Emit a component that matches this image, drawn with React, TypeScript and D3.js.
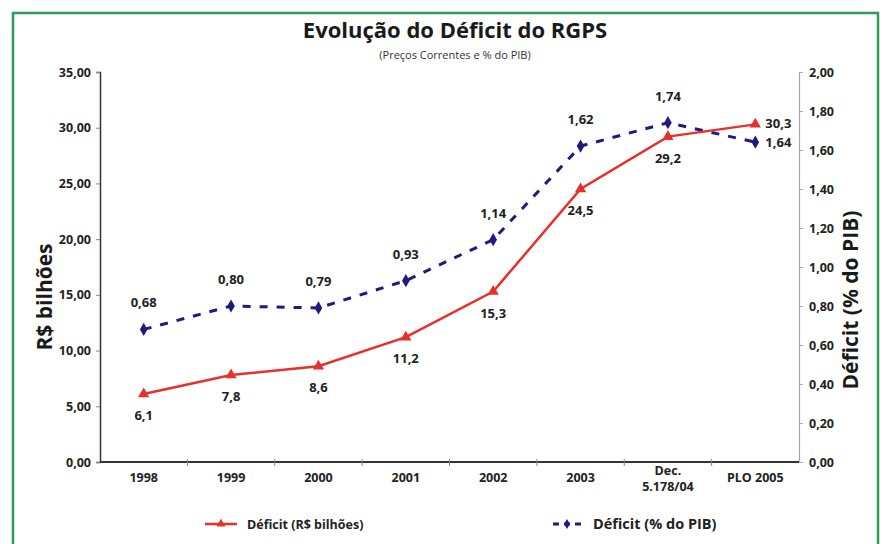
import React, { useRef, useEffect } from 'react';
import * as d3 from 'd3';

const categories = ['1998', '1999', '2000', '2001', '2002', '2003', 'Dec.\n5.178/04', 'PLO 2005'];
const deficitBilhoes = [6.1, 7.8, 8.6, 11.2, 15.3, 24.5, 29.2, 30.3];
const deficitPib = [0.68, 0.8, 0.79, 0.93, 1.14, 1.62, 1.74, 1.64];
const leftTicks = [0, 5, 10, 15, 20, 25, 30, 35];
const rightTicks = [0, 0.2, 0.4, 0.6, 0.8, 1.0, 1.2, 1.4, 1.6, 1.8, 2.0];

const RED = '#e8302a';
const NAVY = '#1f1a80';
const FONT = '"Open Sans", "DejaVu Sans", sans-serif';

const fmt2 = (v: number) => v.toFixed(2).replace('.', ',');
const fmt1 = (v: number) => v.toFixed(1).replace('.', ',');

const App = () => {
  const svgRef = useRef<SVGSVGElement | null>(null);

  useEffect(() => {
    if (!svgRef.current) return;
    const svg = d3.select(svgRef.current);
    svg.selectAll('*').remove();

    const width = 886;
    const height = 544;
    const margin = { top: 72, right: 87, bottom: 82, left: 100 };

    // frame
    svg.append('rect')
      .attr('x', 13).attr('y', 13)
      .attr('width', 865).attr('height', 560)
      .attr('fill', '#fff')
      .attr('stroke', '#2e9a5c')
      .attr('stroke-width', 2.5);

    const x = d3.scaleBand()
      .domain(categories)
      .range([margin.left, width - margin.right]);

    const yL = d3.scaleLinear().domain([0, 35]).range([height - margin.bottom, margin.top]);
    const yR = d3.scaleLinear().domain([0, 2]).range([height - margin.bottom, margin.top]);

    // title
    svg.append('text')
      .attr('x', 455).attr('y', 38)
      .attr('text-anchor', 'middle')
      .style('font-family', FONT)
      .style('font-size', '22px')
      .style('font-weight', 'bold')
      .attr('fill', '#1a1a1a')
      .text('Evolução do Déficit do RGPS');

    svg.append('text')
      .attr('x', 455).attr('y', 59)
      .attr('text-anchor', 'middle')
      .style('font-family', FONT)
      .style('font-size', '11px')
      .attr('fill', '#333')
      .text('(Preços Correntes e % do PIB)');

    const tickStyle = (g: any) => g
      .attr('fill', '#222')
      .style('font-family', FONT)
      .style('font-size', '12.5px')
      .style('font-weight', 'bold');

    // left axis
    svg.append('g')
      .attr('transform', `translate(${margin.left},0)`)
      .call(d3.axisLeft(yL).tickValues(leftTicks).tickFormat(d => fmt2(d as number)).tickSize(4).tickPadding(5))
      .call(g => g.select('.domain').attr('stroke', '#333').attr('stroke-width', 1.5))
      .call(g => g.selectAll('.tick line').attr('stroke', '#888'))
      .call(g => tickStyle(g.selectAll('.tick text')));

    // right axis
    svg.append('g')
      .attr('transform', `translate(${width - margin.right},0)`)
      .call(d3.axisRight(yR).tickValues(rightTicks).tickFormat(d => fmt2(d as number)).tickSize(4).tickPadding(6))
      .call(g => g.select('.domain').attr('stroke', '#aaa').attr('stroke-width', 1.2))
      .call(g => g.selectAll('.tick line').attr('stroke', '#aaa'))
      .call(g => tickStyle(g.selectAll('.tick text')));

    // bottom axis
    const xAxis = svg.append('g')
      .attr('transform', `translate(0,${height - margin.bottom})`);
    xAxis.append('line')
      .attr('x1', margin.left).attr('x2', width - margin.right)
      .attr('stroke', '#333').attr('stroke-width', 2);
    categories.forEach((c, i) => {
      if (i > 0) {
        xAxis.append('line')
          .attr('x1', x(c)!).attr('x2', x(c)!)
          .attr('y1', -3).attr('y2', 4)
          .attr('stroke', '#888');
      }
      const lines = c.split('\n');
      const t = tickStyle(xAxis.append('text')
        .attr('x', x(c)! + x.bandwidth() / 2)
        .attr('y', lines.length > 1 ? 13 : 20)
        .attr('text-anchor', 'middle'));
      lines.forEach((l, j) => {
        t.append('tspan')
          .attr('x', x(c)! + x.bandwidth() / 2)
          .attr('dy', j === 0 ? 0 : 16)
          .text(l);
      });
    });

    // axis titles
    svg.append('text')
      .attr('transform', `translate(52,297) rotate(-90)`)
      .attr('text-anchor', 'middle')
      .style('font-family', FONT)
      .style('font-size', '21px')
      .style('font-weight', 'bold')
      .attr('fill', '#1a1a1a')
      .text('R$ bilhões');

    svg.append('text')
      .attr('transform', `translate(858,300) rotate(-90)`)
      .attr('text-anchor', 'middle')
      .style('font-family', FONT)
      .style('font-size', '21px')
      .style('font-weight', 'bold')
      .attr('fill', '#1a1a1a')
      .text('Déficit (% do PIB)');

    const cx = (i: number) => x(categories[i])! + x.bandwidth() / 2;

    // PIB line
    const linePib = d3.line<number>().x((_, i) => cx(i)).y(d => yR(d));
    svg.append('path')
      .datum(deficitPib)
      .attr('fill', 'none')
      .attr('stroke', NAVY)
      .attr('stroke-width', 3)
      .attr('stroke-dasharray', '8,9')
      .attr('d', linePib);

    const diamond = d3.symbol().type(d3.symbolDiamond).size(50);
    svg.selectAll('.pib-pt')
      .data(deficitPib)
      .enter()
      .append('path')
      .attr('transform', (d, i) => `translate(${cx(i)},${yR(d)})`)
      .attr('d', diamond)
      .attr('fill', NAVY);

    // bilhoes line
    const lineBil = d3.line<number>().x((_, i) => cx(i)).y(d => yL(d));
    svg.append('path')
      .datum(deficitBilhoes)
      .attr('fill', 'none')
      .attr('stroke', RED)
      .attr('stroke-width', 2.5)
      .attr('d', lineBil);

    const tri = d3.symbol().type(d3.symbolTriangle).size(55);
    svg.selectAll('.bil-pt')
      .data(deficitBilhoes)
      .enter()
      .append('path')
      .attr('transform', (d, i) => `translate(${cx(i)},${yL(d)})`)
      .attr('d', tri)
      .attr('fill', RED);

    const last = categories.length - 1;

    // labels
    svg.selectAll('.bil-lbl')
      .data(deficitBilhoes)
      .enter()
      .append('text')
      .attr('x', (d, i) => (i === last ? cx(i) + 10 : cx(i)))
      .attr('y', (d, i) => (i === last ? yL(d) + 4 : yL(d) + 26))
      .attr('text-anchor', (d, i) => (i === last ? 'start' : 'middle'))
      .attr('fill', '#222')
      .style('font-family', FONT)
      .style('font-size', '13px')
      .style('font-weight', 'bold')
      .text(d => fmt1(d));

    svg.selectAll('.pib-lbl')
      .data(deficitPib)
      .enter()
      .append('text')
      .attr('x', (d, i) => (i === last ? cx(i) + 10 : cx(i)))
      .attr('y', (d, i) => (i === last ? yR(d) + 5 : yR(d) - 22))
      .attr('text-anchor', (d, i) => (i === last ? 'start' : 'middle'))
      .attr('fill', '#222')
      .style('font-family', FONT)
      .style('font-size', '13px')
      .style('font-weight', 'bold')
      .text(d => fmt2(d));

    // legend
    const lg = svg.append('g').attr('transform', 'translate(0,524)');
    lg.append('line').attr('x1', 205).attr('x2', 237).attr('stroke', RED).attr('stroke-width', 2.5);
    lg.append('path').attr('transform', 'translate(221,0)').attr('d', d3.symbol().type(d3.symbolTriangle).size(35)).attr('fill', RED);
    lg.append('text')
      .attr('x', 247).attr('y', 4.5)
      .attr('fill', '#222')
      .style('font-family', FONT)
      .style('font-size', '12.5px')
      .style('font-weight', 'bold')
      .text('Déficit (R$ bilhões)');

    lg.append('line').attr('x1', 553).attr('x2', 581).attr('stroke', NAVY).attr('stroke-width', 3).attr('stroke-dasharray', '6,5');
    lg.append('path').attr('transform', 'translate(567,0)').attr('d', d3.symbol().type(d3.symbolDiamond).size(30)).attr('fill', NAVY);
    lg.append('text')
      .attr('x', 593).attr('y', 5)
      .attr('fill', '#222')
      .style('font-family', FONT)
      .style('font-size', '14.5px')
      .style('font-weight', 'bold')
      .text('Déficit (% do PIB)');
  }, []);

  return (
    <svg
      ref={svgRef}
      width={886}
      height={544}
      viewBox="0 0 886 544"
      style={{ position: 'absolute', left: 0, top: 0, display: 'block' }}
    />
  );
};

export default App;
